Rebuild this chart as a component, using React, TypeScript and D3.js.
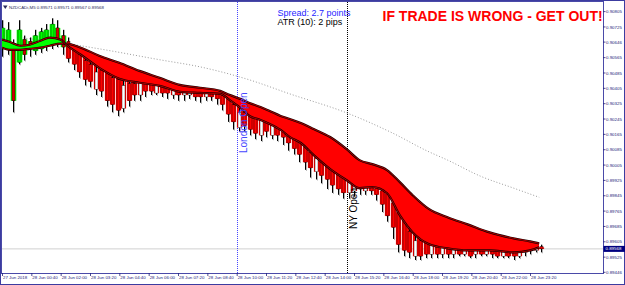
import React from "react";
import * as d3 from "d3";

const W = 625;
const H = 285;

// time axis (minutes from 28 Jun 00:00)
const timeTicks = [-40, 40, 120, 200, 280, 360, 440, 520, 600, 680, 760, 840, 920, 1000, 1080, 1160, 1240, 1320, 1400];
const timeLabels = ["27 Jun 2018", "28 Jun 00:40", "28 Jun 02:00", "28 Jun 03:20", "28 Jun 04:40", "28 Jun 06:00", "28 Jun 07:20", "28 Jun 08:40", "28 Jun 10:00", "28 Jun 11:20", "28 Jun 12:40", "28 Jun 14:00", "28 Jun 15:20", "28 Jun 16:40", "28 Jun 18:00", "28 Jun 19:20", "28 Jun 20:40", "28 Jun 22:00", "28 Jun 23:20"];
const priceLabels = ["0.90805", "0.90725", "0.90646", "0.90565", "0.90485", "0.90405", "0.90325", "0.90245", "0.90165", "0.90085", "0.90005", "0.89925", "0.89845", "0.89765", "0.89685", "0.89605", "0.89525", "0.89446"];
const lastPrice = 0.89568;
const lastLabel = "0.89568";

// candles: 15-minute steps starting 27 Jun 23:20
const candleStart = -40;
const candleStep = 15;
const candleOpen = [
  0.9061, 0.9063, 0.9063, 0.9054, 0.9066, 0.9065, 0.9060, 0.9061, 0.9063, 0.9066,
  0.9072, 0.9068, 0.9065, 0.9061, 0.9058, 0.9055, 0.9053, 0.9040, 0.9050, 0.9048,
  0.9046, 0.9045, 0.9030, 0.9043, 0.9043, 0.9037, 0.9044, 0.9043, 0.9038, 0.9042,
  0.9041, 0.9037, 0.9040, 0.9037, 0.9037, 0.9039, 0.9039, 0.9036, 0.9039, 0.9038,
  0.9037, 0.9036, 0.9032, 0.9020, 0.9028, 0.9027, 0.9025, 0.9016, 0.9023, 0.9016,
  0.9021, 0.9020, 0.9018, 0.9016, 0.9014, 0.9011, 0.9008, 0.8997, 0.9004, 0.9002,
  0.8999, 0.8997, 0.8995, 0.8986, 0.8987, 0.8988, 0.8987, 0.8991, 0.8989, 0.8988,
  0.8986, 0.8982, 0.8977, 0.8972, 0.8966, 0.8953, 0.8961, 0.8960, 0.8954, 0.8959,
  0.8954, 0.8958, 0.8954, 0.8958, 0.8954, 0.8958, 0.8954, 0.8957, 0.8954, 0.8957,
  0.8957, 0.8953, 0.8957, 0.8956, 0.8953, 0.8955, 0.8959, 0.8956, 0.8958,
];
const candleHigh = [
  0.9076, 0.9075, 0.9066, 0.9076, 0.9068, 0.9067, 0.9071, 0.9072, 0.9074, 0.9077,
  0.9076, 0.9071, 0.9067, 0.9062, 0.9059, 0.9056, 0.9054, 0.9053, 0.9051, 0.9050,
  0.9048, 0.9046, 0.9045, 0.9045, 0.9045, 0.9046, 0.9045, 0.9044, 0.9044, 0.9043,
  0.9042, 0.9042, 0.9041, 0.9041, 0.9041, 0.9040, 0.9040, 0.9040, 0.9040, 0.9039,
  0.9039, 0.9037, 0.9034, 0.9032, 0.9030, 0.9028, 0.9027, 0.9027, 0.9025, 0.9025,
  0.9023, 0.9021, 0.9020, 0.9017, 0.9015, 0.9013, 0.9009, 0.9007, 0.9006, 0.9003,
  0.9000, 0.8998, 0.8997, 0.8995, 0.8995, 0.8995, 0.8994, 0.8993, 0.8991, 0.8990,
  0.8987, 0.8983, 0.8980, 0.8974, 0.8969, 0.8965, 0.8964, 0.8962, 0.8961, 0.8961,
  0.8960, 0.8960, 0.8960, 0.8959, 0.8960, 0.8959, 0.8959, 0.8959, 0.8960, 0.8959,
  0.8958, 0.8959, 0.8958, 0.8958, 0.8959, 0.8960, 0.8961, 0.8960, 0.8959,
];
const candleLow = [
  0.9057, 0.9058, 0.9028, 0.9053, 0.9055, 0.9057, 0.9058, 0.9059, 0.9060, 0.9061,
  0.9062, 0.9058, 0.9054, 0.9050, 0.9046, 0.9042, 0.9041, 0.9037, 0.9036, 0.9031,
  0.9028, 0.9026, 0.9028, 0.9031, 0.9034, 0.9034, 0.9036, 0.9037, 0.9037, 0.9036,
  0.9035, 0.9035, 0.9034, 0.9034, 0.9035, 0.9034, 0.9033, 0.9034, 0.9034, 0.9032,
  0.9029, 0.9023, 0.9019, 0.9018, 0.9018, 0.9016, 0.9014, 0.9013, 0.9015, 0.9014,
  0.9013, 0.9011, 0.9008, 0.9006, 0.9002, 0.8998, 0.8994, 0.8993, 0.8991, 0.8988,
  0.8986, 0.8985, 0.8983, 0.8983, 0.8984, 0.8985, 0.8985, 0.8985, 0.8982, 0.8976,
  0.8971, 0.8962, 0.8955, 0.8953, 0.8952, 0.8951, 0.8951, 0.8952, 0.8952, 0.8952,
  0.8952, 0.8952, 0.8952, 0.8953, 0.8953, 0.8952, 0.8952, 0.8953, 0.8953, 0.8952,
  0.8952, 0.8952, 0.8952, 0.8951, 0.8952, 0.8953, 0.8954, 0.8955, 0.8955,
];
const candleClose = [
  0.9072, 0.9071, 0.9034, 0.9071, 0.9058, 0.9061, 0.9068, 0.9070, 0.9071, 0.9074,
  0.9066, 0.9062, 0.9056, 0.9053, 0.9049, 0.9045, 0.9044, 0.9049, 0.9039, 0.9034,
  0.9032, 0.9029, 0.9042, 0.9034, 0.9037, 0.9044, 0.9039, 0.9039, 0.9042, 0.9038,
  0.9038, 0.9040, 0.9037, 0.9039, 0.9039, 0.9036, 0.9036, 0.9039, 0.9036, 0.9035,
  0.9032, 0.9027, 0.9023, 0.9028, 0.9021, 0.9019, 0.9017, 0.9024, 0.9018, 0.9022,
  0.9016, 0.9015, 0.9012, 0.9009, 0.9006, 0.9002, 0.8999, 0.9004, 0.8995, 0.8993,
  0.8990, 0.8988, 0.8986, 0.8992, 0.8993, 0.8993, 0.8991, 0.8987, 0.8985, 0.8980,
  0.8974, 0.8968, 0.8959, 0.8956, 0.8955, 0.8961, 0.8953, 0.8954, 0.8959, 0.8954,
  0.8958, 0.8954, 0.8957, 0.8954, 0.8958, 0.8953, 0.8957, 0.8954, 0.8957, 0.8954,
  0.8953, 0.8956, 0.8953, 0.8953, 0.8957, 0.8958, 0.8956, 0.8958, 0.89568,
];

// moving averages
const maTimes = [-40, -20, 10, 35, 65, 90, 120, 135, 175, 225, 280, 335, 390, 445, 500, 555, 580, 610, 635, 665, 690, 720, 745, 775, 810, 855, 900, 935, 970, 1010, 1045, 1080, 1125, 1175, 1230, 1290, 1355, 1400, 1425];
const slowMA = [0.90617, 0.90606, 0.90606, 0.90611, 0.90617, 0.90627, 0.90638, 0.90638, 0.90617, 0.90575, 0.90538, 0.90496, 0.9046, 0.90423, 0.90408, 0.90392, 0.90371, 0.9035, 0.90329, 0.90308, 0.90287, 0.90261, 0.90245, 0.90224, 0.90193, 0.90151, 0.90088, 0.90031, 0.9001, 0.89979, 0.89916, 0.89848, 0.89775, 0.89733, 0.89696, 0.89654, 0.89623, 0.89607, 0.89597];
const fastMA = [0.90659, 0.90648, 0.90627, 0.90632, 0.90653, 0.90669, 0.90659, 0.90632, 0.9058, 0.90512, 0.90455, 0.90434, 0.90418, 0.90387, 0.90381, 0.90376, 0.90345, 0.90303, 0.90261, 0.9024, 0.90219, 0.90188, 0.90151, 0.9012, 0.90057, 0.89984, 0.89926, 0.89885, 0.8989, 0.89858, 0.89743, 0.89654, 0.89592, 0.89571, 0.8956, 0.8956, 0.8955, 0.8956, 0.89576];
const longTimes = [10, 120, 225, 390, 500, 635, 745, 900, 1025, 1120, 1175, 1265, 1355, 1425];
const longMA = [0.90669, 0.90643, 0.90611, 0.90554, 0.90517, 0.90449, 0.90376, 0.90277, 0.90172, 0.90078, 0.90031, 0.89947, 0.89885, 0.89837];

const sessionTimes = [600, 900];
const sessionNames = ["London Open", "NY Open"];
const sessionColors = ["#4646ff", "#000000"];
const sessionLabelBottom = [153, 229];

const PL = 2, PR = 603, PT = 2, PB = 273;
const FONT = "'Liberation Sans', Arial, sans-serif";
const AXIS = "#22227a";

export default function App() {
  const x = d3.scaleLinear().domain([-40, 1599]).range([PL, PR]);
  const y = d3.scaleLinear().domain([0.89446, 0.90805]).range([272.3, 11.6]);

  const ma = maTimes.map((t, i) => ({ t, s: slowMA[i], f: fastMA[i] }));
  const curve = d3.curveMonotoneX;
  const ribbon = d3.area<any>().x((d) => x(d.t)).y0((d) => y(d.s)).y1((d) => y(d.f)).curve(curve)(ma) || "";
  const below = d3.area<any>().x((d) => x(d.t)).y0(400).y1((d) => y(d.s)).curve(curve)(ma) || "";
  const above = d3.area<any>().x((d) => x(d.t)).y0(-100).y1((d) => y(d.s)).curve(curve)(ma) || "";
  const line = d3.line<any>().curve(curve);
  const slowPath = line(ma.map((d) => [x(d.t), y(d.s)])) || "";
  const fastPath = line(ma.map((d) => [x(d.t), y(d.f)])) || "";
  const longPath = line(longTimes.map((t, i) => [x(t), y(longMA[i])])) || "";

  // MA value at a candle time (for the trend histogram)
  const fastAt = d3.scaleLinear().domain(maTimes).range(fastMA).clamp(true);
  const slowAt = d3.scaleLinear().domain(maTimes).range(slowMA).clamp(true);

  const candles = candleOpen.map((o, i) => ({
    t: candleStart + i * candleStep,
    o,
    h: candleHigh[i],
    l: candleLow[i],
    c: candleClose[i],
  }));

  const small = (tx: number, ty: number, s: string, fill: string, key?: any) => (
    <text key={key} transform={`translate(${tx},${ty}) scale(0.5)`} fontSize={8.8} fill={fill} fontFamily={FONT}>
      {s}
    </text>
  );

  return (
    <svg width={W} height={H} style={{ position: "absolute", left: 0, top: 0, background: "#fff" }}>
      <defs>
        <clipPath id="plot">
          <rect x={PL} y={PT} width={PR - PL} height={PB - PT} />
        </clipPath>
        <clipPath id="below">
          <path d={below} />
        </clipPath>
        <clipPath id="above">
          <path d={above} />
        </clipPath>
      </defs>
      <rect x={0} y={0} width={W} height={H} fill="#fff" />
      <g clipPath="url(#plot)">
        {/* bid line */}
        <line x1={PL} x2={PR} y1={y(lastPrice)} y2={y(lastPrice)} stroke="#d0d0d0" strokeWidth={1} />
        {/* session lines */}
        {sessionTimes.map((t, i) => (
          <line key={i} x1={Math.round(x(t)) + 0.5} x2={Math.round(x(t)) + 0.5} y1={PT} y2={PB} stroke={sessionColors[i]} strokeWidth={1} strokeDasharray="1,1" />
        ))}
        {/* long MA dotted */}
        <path d={longPath} fill="none" stroke="#9a9a9a" strokeWidth={1} strokeDasharray="1,2" />
        {/* candles */}
        {candles.map((d, i) => {
          const cx = Math.round(x(d.t)) + 0.5;
          const bear = d.c < d.o;
          const top = y(Math.max(d.o, d.c));
          const bot = y(Math.min(d.o, d.c));
          const f = fastAt(d.t);
          const down = f < slowAt(d.t);
          let hist: any = null;
          if (down && Math.min(d.o, d.c) < f) {
            hist = <rect x={cx - 2.6} y={y(f)} width={5.2} height={y(Math.min(d.o, d.c)) - y(f)} fill="#ff0000" />;
          } else if (!down) {
            const hi = Math.max(d.o, d.c, f);
            const lo = Math.min(d.o, d.c, f);
            hist = <rect x={cx - 2.8} y={y(hi)} width={5.6} height={y(lo) - y(hi)} fill="#00ff00" />;
          }
          return (
            <g key={i}>
              {hist}
              <line x1={cx + 1} x2={cx + 1} y1={y(d.h)} y2={y(d.l) + 1} stroke="#b4b4b4" strokeWidth={1} />
              <line x1={cx} x2={cx} y1={y(d.h)} y2={y(d.l)} stroke="#000" strokeWidth={1} />
              <rect x={cx - 1.5} y={top} width={3} height={Math.max(1, bot - top)} fill={bear ? (down ? "#ff0000" : "#d00000") : down ? "#ffffff" : "#00ff00"} stroke="#000" strokeWidth={0.4} />
            </g>
          );
        })}
        {/* ribbon */}
        <path d={ribbon} fill="#ff0000" clipPath="url(#below)" />
        <path d={ribbon} fill="#00ff00" clipPath="url(#above)" />
        {/* MA lines */}
        {[slowPath, fastPath].map((p, i) => (
          <g key={i}>
            <path d={p} fill="none" stroke="#1a0000" strokeWidth={2.2} />
            <path d={p} fill="none" stroke="#d00000" strokeWidth={0.8} />
          </g>
        ))}
        {/* session labels */}
        {sessionTimes.map((t, i) => (
          <text key={i} transform={`translate(${x(t) + 10},${sessionLabelBottom[i]}) rotate(-90)`} fontSize={10} fontFamily={FONT} fill={sessionColors[i]}>
            {sessionNames[i]}
          </text>
        ))}
      </g>

      {/* frames */}
      <rect x={0.5} y={0.5} width={W - 1} height={H - 1} fill="none" stroke="#3c3ca0" strokeWidth={1} />
      <rect x={PL - 0.5} y={PT - 0.5} width={PR - PL + 1} height={PB - PT + 1} fill="none" stroke="#4a4aa8" strokeWidth={1} />

      {/* price axis */}
      {priceLabels.map((s, i) => {
        const py = y(parseFloat(s));
        return (
          <g key={i}>
            <line x1={PR} x2={PR + 2.5} y1={py} y2={py} stroke={AXIS} strokeWidth={0.8} />
            {small(PR + 3, py + 1.6, s, AXIS)}
          </g>
        );
      })}
      <rect x={PR + 0.5} y={y(lastPrice) - 3} width={21.5} height={6} fill="#000080" />
      {small(PR + 2.5, y(lastPrice) + 1.6, lastLabel, "#ffffff")}

      {/* time axis */}
      {timeTicks.map((t, i) => (
        <g key={i}>
          <line x1={x(t) + 0.5} x2={x(t) + 0.5} y1={PB} y2={PB + 3} stroke={AXIS} strokeWidth={0.8} />
          {small(x(t) + 1, 279, timeLabels[i], AXIS)}
        </g>
      ))}

      {/* title */}
      <path d="M3,5.5 L7.5,5.5 L5.25,9 Z" fill="#2a2a5a" />
      {small(9, 9, "NZDCADi,M5  0.89571 0.89571 0.89567 0.89568", "#2a2a5a")}

      {/* info texts */}
      <text x={277.5} y={15.7} fontSize={9} fontFamily={FONT} fill="#1f1fff">Spread: 2.7 points</text>
      <text x={277.5} y={25.2} fontSize={9} fontFamily={FONT} fill="#000">ATR (10): 2 pips</text>
      <text x={382.5} y={20.5} fontSize={14} fontWeight="bold" fontFamily={FONT} fill="#ff0000">IF TRADE IS WRONG - GET OUT!</text>
    </svg>
  );
}
